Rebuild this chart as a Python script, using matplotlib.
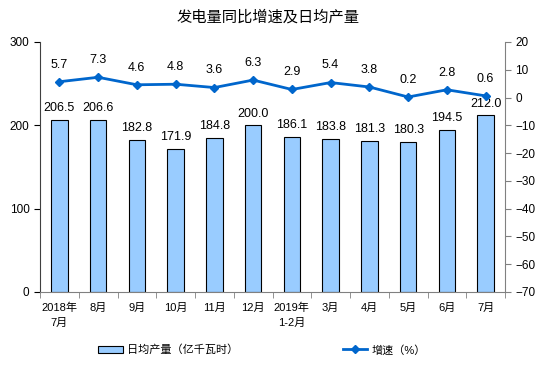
import numpy as np
import matplotlib.pyplot as plt
from matplotlib.ticker import FixedLocator

plt.rcParams['font.family'] = ['Liberation Sans', 'Noto Sans CJK SC', 'DejaVu Sans']

months = ['2018年\n7月', '8月', '9月', '10月', '11月', '12月', '2019年\n1-2月',
          '3月', '4月', '5月', '6月', '7月']
daily_output = [206.5, 206.6, 182.8, 171.9, 184.8, 200.0, 186.1, 183.8, 181.3, 180.3, 194.5, 212.0]
growth = [5.7, 7.3, 4.6, 4.8, 3.6, 6.3, 2.9, 5.4, 3.8, 0.2, 2.8, 0.6]

fig = plt.figure(figsize=(5.59, 3.85), dpi=100)
ax = fig.add_axes([40 / 559, 1 - 292 / 385, (505 - 40) / 559, (292 - 42) / 385])
ax2 = ax.twinx()

x = np.arange(len(months))
bars = ax.bar(x, daily_output, width=0.43, color='#99CCFF', edgecolor='black', linewidth=0.8,
              label='日均产量（亿千瓦时）')
for xi, v in zip(x, daily_output):
    ax.annotate(f'{v:.1f}', (xi, v), xytext=(0, 4), textcoords='offset points',
                ha='center', va='bottom', fontsize=9)

line, = ax2.plot(x, growth, color='#0066CC', lw=2, marker='D', ms=4, label='增速（%）')
for xi, v in zip(x, growth):
    ax2.annotate(f'{v:.1f}', (xi, v), xytext=(0, 8), textcoords='offset points',
                 ha='center', va='bottom', fontsize=9)

ax.set_xlim(-0.5, len(months) - 0.5)
ax.set_ylim(0, 300)
ax.set_yticks([0, 100, 200, 300])
ax2.set_ylim(-70, 20)
ax2.set_yticks(range(-70, 21, 10))

ax.set_xticks(x)
ax.set_xticklabels(months, fontsize=8, linespacing=1.5)
ax.tick_params(axis='x', length=0, pad=8)
ax.xaxis.set_minor_locator(FixedLocator(np.arange(-0.5, len(months), 1)))
ax.tick_params(axis='x', which='minor', length=4, color='#808080')
ax.tick_params(axis='y', labelsize=8.5, length=4, direction='out')
ax2.tick_params(axis='y', labelsize=8.5, length=4, direction='out', color='#808080')

for a in (ax, ax2):
    a.spines['top'].set_visible(False)
ax.spines['right'].set_visible(False)
ax.spines['left'].set_color('#404040')
ax.spines['bottom'].set_color('#808080')
ax2.spines['left'].set_visible(False)
ax2.spines['bottom'].set_visible(False)
ax2.spines['right'].set_color('#808080')

fig.text(268 / 559, 1 - 17 / 385, '发电量同比增速及日均产量', ha='center', va='center', fontsize=11)

fig.legend([bars, line], ['日均产量（亿千瓦时）', '增速（%）'], loc='center',
           bbox_to_anchor=(262 / 559, 1 - 350 / 385), ncol=2, frameon=False,
           fontsize=8, handlelength=2.2, handletextpad=0.4, columnspacing=9.4)

fig.savefig('out.png', dpi=100)
